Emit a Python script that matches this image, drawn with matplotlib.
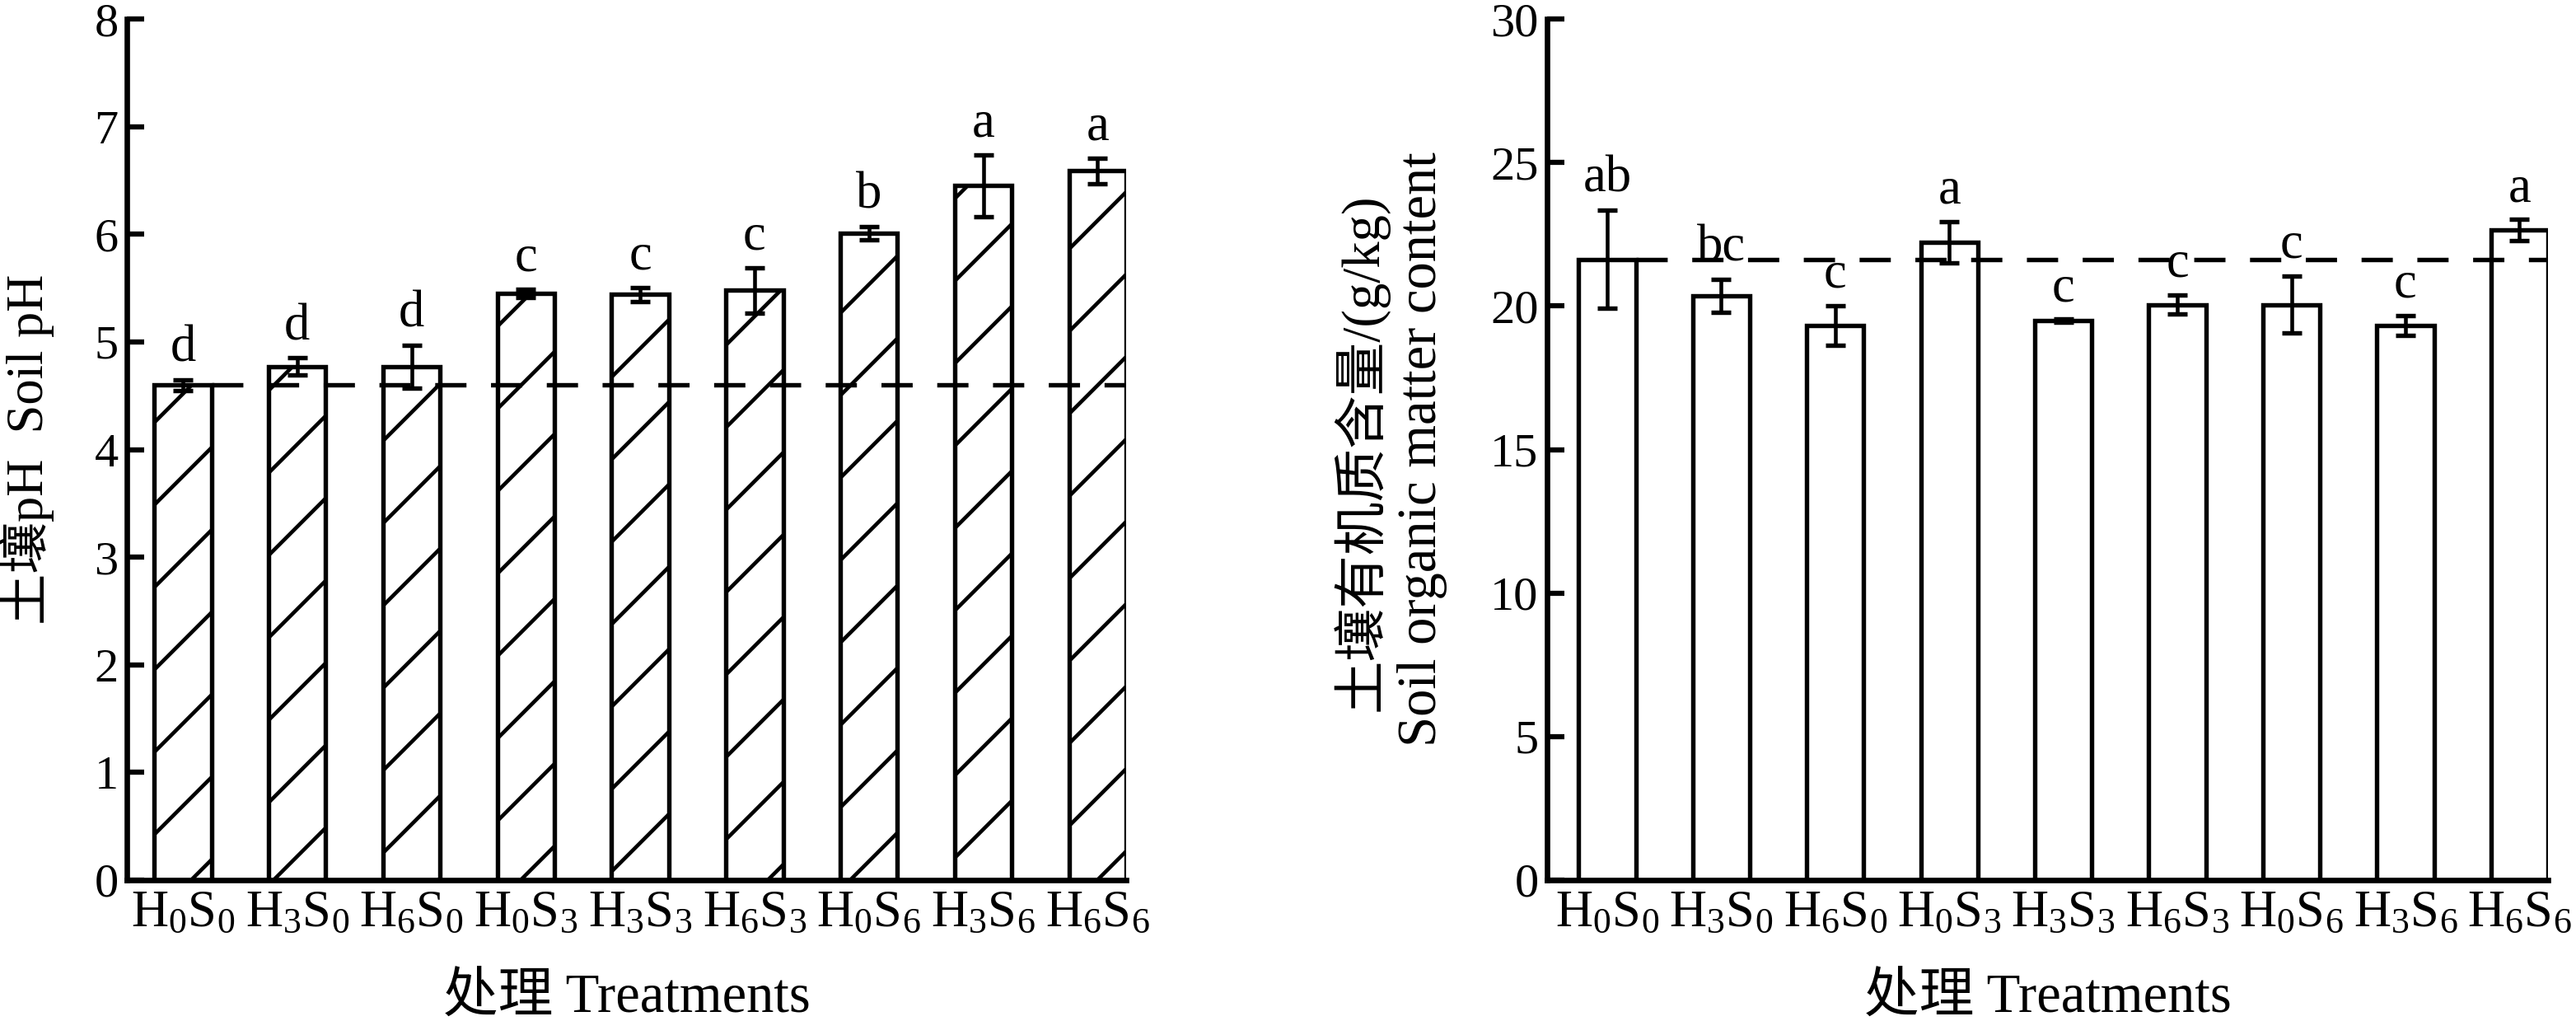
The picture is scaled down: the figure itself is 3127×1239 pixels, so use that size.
import numpy as np
import matplotlib
matplotlib.use("Agg")
import matplotlib.pyplot as plt

plt.rcParams['font.family'] = ['Liberation Serif', 'Noto Sans CJK SC', 'DejaVu Sans']
plt.rcParams['mathtext.fontset'] = 'custom'
plt.rcParams['mathtext.rm'] = 'Liberation Serif'
plt.rcParams['mathtext.it'] = 'Liberation Serif:italic'
plt.rcParams['hatch.linewidth'] = 1.1

# treatments
treatments = [r'$\mathrm{H_0S_0}$', r'$\mathrm{H_3S_0}$', r'$\mathrm{H_6S_0}$',
              r'$\mathrm{H_0S_3}$', r'$\mathrm{H_3S_3}$', r'$\mathrm{H_6S_3}$',
              r'$\mathrm{H_0S_6}$', r'$\mathrm{H_3S_6}$', r'$\mathrm{H_6S_6}$']

# soil pH
ph_mean = [4.60, 4.77, 4.77, 5.45, 5.44, 5.48, 6.01, 6.45, 6.59]
ph_err = [0.05, 0.08, 0.20, 0.04, 0.065, 0.21, 0.06, 0.29, 0.12]
ph_sig = ['d', 'd', 'd', 'c', 'c', 'c', 'b', 'a', 'a']

# soil organic matter, g/kg
som_mean = [21.63, 20.36, 19.32, 22.22, 19.49, 20.05, 20.05, 19.32, 22.64]
som_err = [1.72, 0.57, 0.68, 0.73, 0.05, 0.33, 1.00, 0.34, 0.37]
som_sig = ['ab', 'bc', 'c', 'a', 'c', 'c', 'c', 'c', 'a']

W, H = 3127, 1239
fig = plt.figure(figsize=(W / 300, H / 300), dpi=300)

ax1 = fig.add_axes([154 / W, 1 - 1068 / H, (1367 - 154) / W, (1068 - 23) / H])
ax2 = fig.add_axes([1878 / W, 1 - 1068 / H, (3093 - 1878) / W, (1068 - 23) / H])


def draw(ax, mean, err, sig, ymax, step, hatch, xl):
    x = np.arange(len(mean))
    ax.bar(x, mean, width=0.5, color='white', edgecolor='black',
           linewidth=1.3, hatch=hatch, zorder=2)
    ax.errorbar(x, mean, yerr=err, fmt='none', ecolor='black',
                elinewidth=1.1, capsize=2.9, capthick=1.3, zorder=4)
    ax.hlines(mean[0], 0.25, 8.25, colors='black', linestyles=(0, (7, 5.5)),
              linewidth=1.3, zorder=3)
    for xi, m, e, s in zip(x, mean, err, sig):
        ax.annotate(s, (xi, m + e), xytext=(0, 2.0), textcoords='offset points',
                    ha='center', va='bottom', fontsize=15, zorder=5)
    ax.set_xlim(xl, 8.25)
    ax.set_ylim(0, ymax)
    ax.set_yticks(np.arange(0, ymax + 0.01, step))
    ax.set_xticks(x)
    ax.set_xticklabels(treatments, fontsize=15)
    ax.tick_params(axis='y', direction='in', length=5, width=1.5, pad=2.5,
                   labelsize=14)
    ax.tick_params(axis='x', direction='in', length=5, width=1.2, pad=3)
    for side in ['top', 'right']:
        ax.spines[side].set_visible(False)
    for side in ['left', 'bottom']:
        ax.spines[side].set_linewidth(1.6)
    ax.set_xlabel('处理 Treatments', fontsize=16, labelpad=10)


draw(ax1, ph_mean, ph_err, ph_sig, 8, 1, '/', -0.49)
draw(ax2, som_mean, som_err, som_sig, 30, 5, None, -0.527)

fig.text(33 / W, 1 - 545 / H, '土壤pH  Soil pH', rotation=90,
         ha='center', va='center', fontsize=15)
fig.text(1651 / W, 1 - 549 / H, '土壤有机质含量/(g/kg)', rotation=90,
         ha='center', va='center', fontsize=15.5)
fig.text(1727 / W, 1 - 545 / H, 'Soil organic matter content', rotation=90,
         ha='center', va='center', fontsize=16)

fig.savefig('out.png', dpi=300)
